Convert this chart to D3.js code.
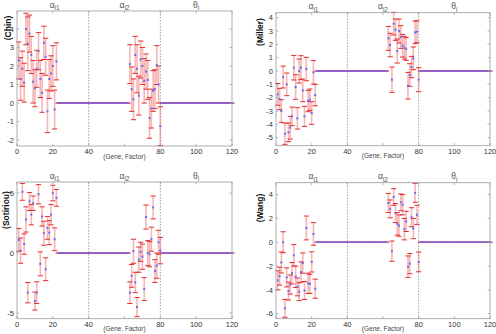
<!DOCTYPE html>
<html><head><meta charset="utf-8">
<script src="https://cdn.jsdelivr.net/npm/d3@7/dist/d3.min.js"></script>
<style>body{margin:0;background:#fff}svg{display:block}text{font-family:"Liberation Sans",Arial,sans-serif}</style>
</head><body><svg id="c" width="496" height="334"></svg>
<script>
// ---- data ----
const xTicks = [0, 20, 40, 60, 80, 100, 120];
const xTickLabels = ["0", "20", "40", "", "80", "100", "120"]; // "60" is hidden behind the axis title
const groupLabels = [{t: "α", s: "i1", at: 21}, {t: "α", s: "i2", at: 60}, {t: "θ", s: "i", at: 100}];
const groupBounds = [40, 80];
const leftIdx = d3.range(1, 23);     // genes 1..22 (α_i1 non-zero)
const rightIdx = d3.range(63, 81);   // genes 63..80 (α_i2 non-zero)
const zeroIdx = d3.range(23, 63).concat(d3.range(81, 121));

const chinLeft = [2.3, 1.3, 1.85, 1.1, 4.0, 3.2, 3.75, 2.6, 1.15, 0.8, 1.85, 2.8, 1.3, 0.55, 3.25, 2.5, -0.45, 1.3, 1.6, 2.0, -0.35, 2.25];
const chinLeftErr = [1.0, 1.15, 0.95, 1.05, 0.85, 1.45, 1.0, 1.0, 1.15, 1.0, 1.0, 1.0, 1.0, 1.05, 0.9, 1.0, 1.15, 1.05, 0.95, 1.1, 1.05, 1.0];
const chinRight = [2.1, 0.75, 0.2, 2.6, 1.85, 0.4, 2.35, 2.0, 1.2, 1.7, 1.25, -0.8, -0.3, 0.65, 0.75, 2.05, 1.0, -1.25];
const chinRightErr = [1.05, 1.2, 1.1, 1.0, 1.3, 1.05, 1.0, 1.0, 1.2, 0.95, 1.05, 1.1, 1.05, 1.1, 1.05, 1.05, 1.0, 1.05];

const millerLeft = [-1.75, -2.1, -3.0, -0.45, -4.7, -1.0, -4.6, -4.25, -3.4, 0.25, -1.2, -3.55, 0.0, 0.25, -1.45, -3.4, 0.15, -2.25, -2.15, -3.15, -0.1, -1.8];
const millerLeftErr = [0.82, 0.8, 0.85, 0.82, 0.8, 0.85, 0.7, 0.85, 0.7, 0.92, 0.92, 0.8, 0.9, 0.9, 0.85, 0.75, 0.88, 0.8, 0.8, 0.85, 0.88, 0.8];
const millerRight = [2.45, 1.95, -0.65, 3.55, 3.1, 1.5, 3.0, 2.55, 1.9, 1.75, 1.65, -1.1, -0.3, 0.3, 0.95, 2.9, 2.95, -0.65];
const millerRightErr = [0.9, 0.88, 0.95, 0.85, 0.8, 0.9, 0.9, 0.85, 0.85, 0.85, 0.85, 1.0, 0.85, 0.8, 0.85, 0.85, 0.82, 0.9];

const sotiriouLeft = [1.1, 0.2, 5.1, 0.75, 2.8, -3.3, 4.3, 3.2, 4.15, -4.0, -3.3, 4.9, -0.9, 3.05, 1.65, -1.35, 2.1, 1.7, 3.2, 5.0, 1.15, 4.6];
const sotiriouLeftErr = [0.95, 1.05, 0.7, 0.85, 1.05, 0.85, 0.75, 0.85, 0.6, 0.75, 0.9, 0.8, 1.0, 0.8, 1.0, 0.95, 0.95, 1.0, 0.85, 0.65, 0.95, 0.7];
const sotiriouRight = [-3.3, -1.9, 0.15, -2.45, -4.5, -0.55, 0.1, -0.3, -3.0, 3.0, 0.0, -0.1, 1.15, 3.8, -1.5, -1.05, 0.9, 0.2];
const sotiriouRightErr = [0.9, 0.95, 1.0, 0.85, 0.8, 1.05, 0.8, 1.05, 0.95, 1.0, 1.05, 1.05, 1.0, 0.95, 0.95, 1.05, 1.0, 1.1];

const wangLeft = [-3.2, -2.85, -1.7, 0.0, -5.55, -2.95, -4.1, -3.55, -2.6, -1.1, -2.9, -3.75, -4.15, -2.5, -1.75, -4.05, 1.2, -3.45, -3.5, -1.65, 0.7, -3.9];
const wangLeftErr = [0.8, 0.75, 0.88, 0.88, 0.75, 0.8, 0.75, 0.8, 0.9, 0.9, 0.9, 0.75, 0.75, 0.85, 0.85, 0.75, 1.0, 0.85, 0.8, 0.85, 0.95, 0.8];
const wangRight = [3.3, 2.8, -0.75, 3.8, 2.45, 1.55, 1.4, 3.35, 3.15, 1.1, 1.75, -2.05, -1.8, 2.1, 1.15, 4.15, 2.3, -1.65];
const wangRightErr = [0.8, 0.75, 0.85, 0.7, 0.8, 0.95, 0.9, 0.7, 0.85, 0.9, 0.85, 0.9, 0.85, 0.8, 0.85, 0.8, 0.8, 0.83];

const chinTicks = [-2, -1, 0, 1, 2, 3, 4];
const millerTicks = [-5, -4, -3, -2, -1, 0, 1, 2, 3, 4];
const sotiriouTicks = [-5, 0, 5];
const wangTicks = [-6, -4, -2, 0, 2, 4];

// ---- layout ----
const panels = [
  {name: "(Chin)", L: chinLeft, LE: chinLeftErr, R: chinRight, RE: chinRightErr, ticks: chinTicks,
   box: [17, 232, 11, 146], dom: [-2.32, 4.97], lab: [8, 28]},
  {name: "(Miller)", L: millerLeft, LE: millerLeftErr, R: millerRight, RE: millerRightErr, ticks: millerTicks,
   box: [276, 490, 12.7, 145.7], dom: [-5.6, 4.375], lab: [260, 32]},
  {name: "(Sotiriou)", L: sotiriouLeft, LE: sotiriouLeftErr, R: sotiriouRight, RE: sotiriouRightErr, ticks: sotiriouTicks,
   box: [17, 232, 182, 318.7], dom: [-5.47, 5.92], lab: [6, 210]},
  {name: "(Wang)", L: wangLeft, LE: wangLeftErr, R: wangRight, RE: wangRightErr, ticks: wangTicks,
   box: [276, 490, 182.7, 318.7], dom: [-6.42, 5.0], lab: [260, 208]}
];

const svg = d3.select("#c");

panels.forEach(p => {
  const [x0, x1, y0, y1] = p.box;
  const x = d3.scaleLinear().domain([0, 120]).range([x0, x1]);
  const y = d3.scaleLinear().domain(p.dom).range([y1, y0]);
  const g = svg.append("g");

  g.selectAll(".sep").data(groupBounds).join("line")
    .attr("x1", d => x(d)).attr("x2", d => x(d)).attr("y1", y0).attr("y2", y1)
    .attr("stroke", "#888").attr("stroke-width", 0.8).attr("stroke-dasharray", "1.5,1.5");

  const pts = [];
  leftIdx.forEach((gi, i) => pts.push({gi, v: p.L[i], e: p.LE[i]}));
  rightIdx.forEach((gi, i) => pts.push({gi, v: p.R[i], e: p.RE[i]}));
  const zeros = zeroIdx.map(gi => ({gi, v: 0, e: 0}));

  const cw = 2.6;
  g.selectAll(".stem").data(pts).join("line")
    .attr("x1", d => x(d.gi)).attr("x2", d => x(d.gi))
    .attr("y1", d => y(d.v + d.e)).attr("y2", d => y(d.v - d.e))
    .attr("stroke", "#f26b6b").attr("stroke-opacity", 0.5).attr("stroke-width", 1.6);
  const capData = [];
  pts.forEach(d => { capData.push({gi: d.gi, yv: d.v + d.e}); capData.push({gi: d.gi, yv: d.v - d.e}); });
  g.selectAll(".cap").data(capData).join("line")
    .attr("x1", d => x(d.gi) - cw).attr("x2", d => x(d.gi) + cw)
    .attr("y1", d => y(d.yv)).attr("y2", d => y(d.yv))
    .attr("stroke", "#e52a2a").attr("stroke-width", 1);
  g.selectAll(".zcap").data(zeros).join("line")
    .attr("x1", d => x(d.gi) - cw).attr("x2", d => x(d.gi) + cw)
    .attr("y1", d => y(d.v)).attr("y2", d => y(d.v))
    .attr("stroke", "#c8406a").attr("stroke-width", 1.3);
  g.selectAll(".mk").data(pts).join("rect")
    .attr("x", d => x(d.gi) - 1).attr("y", d => y(d.v) - 1)
    .attr("width", 2).attr("height", 2)
    .attr("fill", "#6b6bf0");
  g.selectAll(".zmk").data(zeros).join("rect")
    .attr("x", d => x(d.gi) - 0.8).attr("y", d => y(d.v) - 0.8)
    .attr("width", 1.6).attr("height", 1.6)
    .attr("fill", "#7c6ae8");

  g.append("rect").attr("x", x0).attr("y", y0).attr("width", x1 - x0).attr("height", y1 - y0)
    .attr("fill", "none").attr("stroke", "#9a9a9a").attr("stroke-width", 0.8);

  g.selectAll(".xt").data(xTicks).join("line")
    .attr("x1", d => x(d)).attr("x2", d => x(d)).attr("y1", y1).attr("y2", y1 - 2.5)
    .attr("stroke", "#9a9a9a").attr("stroke-width", 0.7);
  g.selectAll(".xtt").data(xTicks).join("line")
    .attr("x1", d => x(d)).attr("x2", d => x(d)).attr("y1", y0).attr("y2", y0 + 2.5)
    .attr("stroke", "#9a9a9a").attr("stroke-width", 0.7);
  g.selectAll(".xl").data(xTicks.filter((d, i) => xTickLabels[i] !== "")).join("text")
    .attr("x", d => x(d)).attr("y", y1 + 7.8).attr("text-anchor", "middle")
    .attr("font-size", 7.5).attr("fill", "#333").text(d => xTickLabels[xTicks.indexOf(d)]);

  g.selectAll(".yt").data(p.ticks).join("line")
    .attr("x1", x0).attr("x2", x0 + 2.5).attr("y1", d => y(d)).attr("y2", d => y(d))
    .attr("stroke", "#9a9a9a").attr("stroke-width", 0.7);
  g.selectAll(".ytr").data(p.ticks).join("line")
    .attr("x1", x1).attr("x2", x1 - 2.5).attr("y1", d => y(d)).attr("y2", d => y(d))
    .attr("stroke", "#9a9a9a").attr("stroke-width", 0.7);
  g.selectAll(".yl").data(p.ticks).join("text")
    .attr("x", x0 - 3).attr("y", d => y(d) + 2.7).attr("text-anchor", "end")
    .attr("font-size", 7.5).attr("fill", "#333").text(d => d);

  g.append("text").attr("x", (x0 + x1) / 2).attr("y", y1 + 12.5).attr("text-anchor", "middle")
    .attr("font-size", 6.5).attr("fill", "#444").text("(Gene, Factor)");

  groupLabels.forEach(gl => {
    const t = g.append("text").attr("x", x(gl.at)).attr("y", y0 - 3.5).attr("text-anchor", "middle")
      .attr("font-size", 8.5).attr("fill", "#555");
    t.append("tspan").text(gl.t);
    t.append("tspan").attr("dy", 2.5).attr("font-size", 6.5).text(gl.s);
  });

  g.append("text").attr("transform", `translate(${p.lab[0] + 3},${p.lab[1]}) rotate(-90)`)
    .attr("text-anchor", "middle").attr("font-size", 8.5).attr("font-weight", "bold")
    .attr("fill", "#111").text(p.name);
});
</script>
</body></html>
